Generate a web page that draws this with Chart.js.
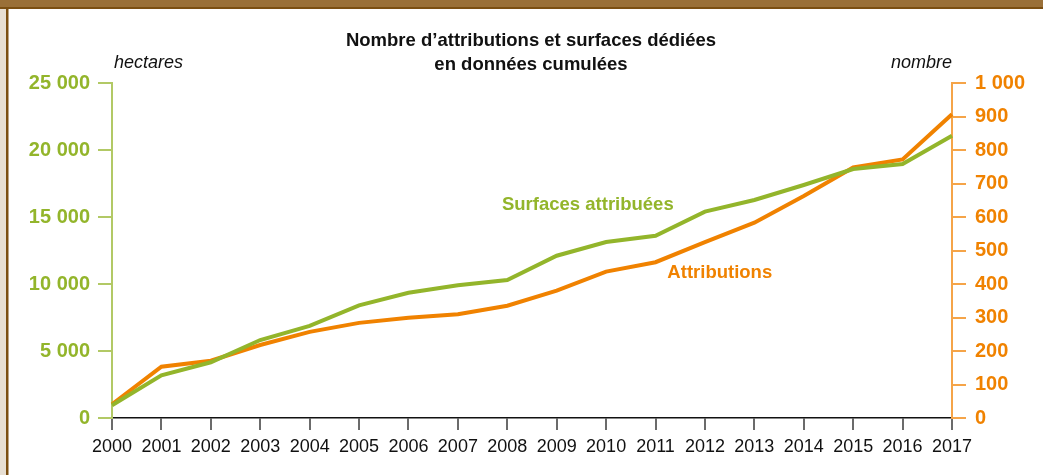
<!DOCTYPE html>
<html>
<head>
<meta charset="utf-8">
<script src="https://cdn.jsdelivr.net/npm/chart.js@4/dist/chart.umd.min.js"></script>
<style>
html,body{margin:0;padding:0;background:#fff;}
canvas{display:block;}
</style>
</head>
<body>
<canvas id="c" width="1043" height="475"></canvas>
<script>
const years = ['2000','2001','2002','2003','2004','2005','2006','2007','2008','2009','2010','2011','2012','2013','2014','2015','2016','2017'];
const surfaces = [950, 3190, 4160, 5820, 6870, 8410, 9350, 9900, 10300, 12110, 13130, 13600, 15400, 16270, 17390, 18580, 18950, 21070];
const attributions = [41, 153, 171, 218, 257, 284, 299, 310, 335, 380, 437, 465, 525, 583, 663, 748, 772, 907];
const leftTickLabels = ['0', '5 000', '10 000', '15 000', '20 000', '25 000'];
const rightTickLabels = ['0', '100', '200', '300', '400', '500', '600', '700', '800', '900', '1 000'];
const title = ['Nombre d\u2019attributions et surfaces dédiées', 'en données cumulées'];
const leftUnit = 'hectares';
const rightUnit = 'nombre';
const seriesNames = ['Surfaces attribuées', 'Attributions'];

const GREEN = '#93b52b';
const GREEN_AXIS = '#b2c965';
const ORANGE = '#f08200';
const ORANGE_AXIS = '#f5a448';
const FONT = "'Liberation Sans', Arial, sans-serif";

const decor = {
  id: 'decor',
  beforeDraw(chart) {
    const ctx = chart.ctx;
    ctx.save();
    ctx.fillStyle = '#ffffff';
    ctx.fillRect(0, 0, chart.width, chart.height);
    ctx.fillStyle = '#e7dfd3';
    ctx.fillRect(0, 0, 6, chart.height);
    ctx.fillStyle = '#7b4f12';
    ctx.fillRect(6, 0, 2.5, chart.height);
    ctx.fillStyle = '#9a7038';
    ctx.fillRect(0, 0, chart.width, 7);
    ctx.fillStyle = '#7b4f12';
    ctx.fillRect(0, 7, chart.width, 2);
    ctx.restore();
  },
  afterDraw(chart) {
    const ctx = chart.ctx;
    const area = chart.chartArea;
    const xs = chart.scales.x;
    const yl = chart.scales.y;
    const yr = chart.scales.y1;
    ctx.save();
    ctx.fillStyle = '#111';
    ctx.textAlign = 'center';
    ctx.textBaseline = 'alphabetic';
    ctx.font = 'bold 18.5px ' + FONT;
    const cx = 531;
    ctx.fillText(title[0], cx, 46);
    ctx.fillText(title[1], cx, 70);
    ctx.font = 'italic 18px ' + FONT;
    ctx.textAlign = 'left';
    ctx.fillText(leftUnit, 114, 68);
    ctx.textAlign = 'right';
    ctx.fillText(rightUnit, area.right, 68);
    ctx.font = 'bold 18.5px ' + FONT;
    ctx.textAlign = 'center';
    ctx.textBaseline = 'middle';
    ctx.fillStyle = GREEN;
    ctx.fillText(seriesNames[0], xs.getPixelForValue(9.63), yl.getPixelForValue(15900));
    ctx.fillStyle = ORANGE;
    ctx.fillText(seriesNames[1], xs.getPixelForValue(12.3), yr.getPixelForValue(433));
    ctx.restore();
  }
};

new Chart(document.getElementById('c'), {
  type: 'line',
  data: {
    labels: years,
    datasets: [
      { label: seriesNames[0], data: surfaces, yAxisID: 'y', borderColor: GREEN, borderWidth: 4, pointRadius: 0, tension: 0, fill: false, borderJoinStyle: 'miter' },
      { label: seriesNames[1], data: attributions, yAxisID: 'y1', borderColor: ORANGE, borderWidth: 4, pointRadius: 0, tension: 0, fill: false, borderJoinStyle: 'miter' }
    ]
  },
  options: {
    responsive: false,
    animation: false,
    devicePixelRatio: 1,
    layout: { padding: { top: 83, left: 0, right: 0, bottom: 0 } },
    plugins: { legend: { display: false }, tooltip: { enabled: false }, title: { display: false } },
    scales: {
      x: {
        type: 'category',
        offset: false,
        afterFit(s) { s.height = 57; },
        border: { display: true, color: '#111', width: 1.5 },
        grid: { drawOnChartArea: false, drawTicks: true, tickLength: 12, color: '#6b6b6b', lineWidth: 2 },
        ticks: { color: '#111', font: { family: FONT, size: 18 }, padding: 6, maxRotation: 0, autoSkip: false }
      },
      y: {
        position: 'left',
        min: 0, max: 25000,
        afterFit(s) { s.width = 112; },
        border: { display: true, color: GREEN_AXIS, width: 2 },
        grid: { drawOnChartArea: false, drawTicks: true, tickLength: 14, color: GREEN_AXIS, lineWidth: 2 },
        ticks: { stepSize: 5000, color: GREEN, font: { family: FONT, size: 20, weight: 'bold' }, padding: 8,
          callback: (v, i) => leftTickLabels[i] }
      },
      y1: {
        position: 'right',
        min: 0, max: 1000,
        afterFit(s) { s.width = 91; },
        border: { display: true, color: ORANGE_AXIS, width: 2 },
        grid: { drawOnChartArea: false, drawTicks: true, tickLength: 14, color: ORANGE_AXIS, lineWidth: 2 },
        ticks: { stepSize: 100, color: ORANGE, font: { family: FONT, size: 20, weight: 'bold' }, padding: 9,
          callback: (v, i) => rightTickLabels[i] }
      }
    }
  },
  plugins: [decor]
});
</script>
</body>
</html>
